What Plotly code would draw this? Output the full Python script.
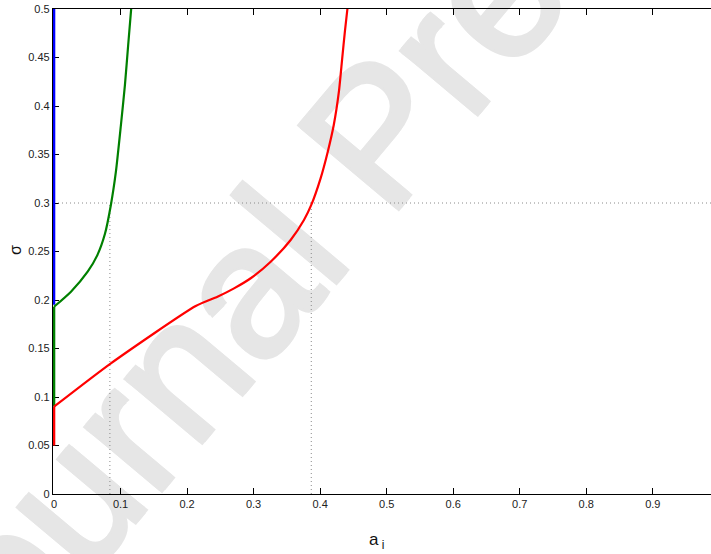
import plotly.graph_objects as go

# ---- data ----
red_stem_x = [0, 0]
red_stem_y = [0.05, 0.09]
red_x = [0, 0.0855, 0.213, 0.2457, 0.2706, 0.2957, 0.3257, 0.3557, 0.3757, 0.3867, 0.4007, 0.4115, 0.4205, 0.4282, 0.4332, 0.4372, 0.4410]
red_y = [0.090, 0.1347, 0.1938, 0.2034, 0.212, 0.2224, 0.2395, 0.2619, 0.2825, 0.298, 0.3254, 0.3529, 0.3804, 0.4148, 0.4492, 0.4766, 0.5]

green_stem_x = [0, 0]
green_stem_y = [0.09, 0.193]
green_x = [0, 0.0255, 0.0506, 0.065, 0.0765, 0.0855, 0.093, 0.1006, 0.1066, 0.1115, 0.116]
green_y = [0.193, 0.2086, 0.2292, 0.246, 0.268, 0.298, 0.332, 0.3804, 0.4216, 0.4629, 0.5]

blue_x = [0, 0]
blue_y = [0.195, 0.5]

ref_sigma = 0.3
ref_a = [0.084, 0.3867]
x_min, x_max = -0.0015, 0.9875

x_ticks = [0, 0.1, 0.2, 0.3, 0.4, 0.5, 0.6, 0.7, 0.8, 0.9]
x_tick_labels = ["0", "0.1", "0.2", "0.3", "0.4", "0.5", "0.6", "0.7", "0.8", "0.9"]
y_ticks = [0, 0.05, 0.1, 0.15, 0.2, 0.25, 0.3, 0.35, 0.4, 0.45, 0.5]
y_tick_labels = ["0", "0.05", "0.1", "0.15", "0.2", "0.25", "0.3", "0.35", "0.4", "0.45", "0.5"]

dot_style = dict(color="#8a8a8a", width=1, dash="1px,3px")

fig = go.Figure()
# dotted guide lines
fig.add_trace(go.Scatter(x=[0, x_max], y=[ref_sigma, ref_sigma], mode="lines", line=dot_style, hoverinfo="skip"))
for a in ref_a:
    fig.add_trace(go.Scatter(x=[a, a], y=[0, ref_sigma], mode="lines", line=dot_style, hoverinfo="skip"))

fig.add_trace(go.Scatter(x=blue_x, y=blue_y, mode="lines", line=dict(color="#0000ff", width=2.6)))
fig.add_trace(go.Scatter(x=green_stem_x, y=green_stem_y, mode="lines", line=dict(color="#008000", width=2.6)))
fig.add_trace(go.Scatter(x=green_x, y=green_y, mode="lines", line=dict(color="#008000", width=2.2, shape="spline", smoothing=0.6)))
fig.add_trace(go.Scatter(x=red_stem_x, y=red_stem_y, mode="lines", line=dict(color="#ff0000", width=2.6)))
fig.add_trace(go.Scatter(x=red_x, y=red_y, mode="lines", line=dict(color="#ff0000", width=2.2, shape="spline", smoothing=0.6)))

axis_font = dict(family="Liberation Sans, Arial, sans-serif", size=11, color="#222222")

fig.update_xaxes(range=[x_min, x_max], tickvals=x_ticks, ticktext=x_tick_labels,
                 showline=True, linecolor="black", linewidth=1.3, mirror="ticks",
                 ticks="inside", ticklen=6, tickcolor="black", tickwidth=1.3,
                 showgrid=False, zeroline=False, tickfont=axis_font, layer="below traces")
fig.update_yaxes(range=[0, 0.5], tickvals=y_ticks, ticktext=y_tick_labels,
                 showline=True, linecolor="black", linewidth=1.3, mirror=False,
                 ticks="inside", ticklen=6, tickcolor="black", tickwidth=1.3,
                 showgrid=False, zeroline=False, tickfont=axis_font, layer="below traces")

W, H = 711, 554
ml, mr, mt, mb = 53, 0, 9, 60
pw, ph = W - ml - mr, H - mt - mb

def px(xp):
    return (xp - ml) / pw

def py(yp):
    return (H - mb - yp) / ph

# watermark (below the data)
wm = "#e6e6e6"
cx, cy = 362, 123
fig.add_shape(type="rect", xref="paper", yref="paper",
              x0=px(cx - 5), x1=px(cx + 5), y0=py(cy + 5), y1=py(cy - 5),
              line=dict(width=0), fillcolor="rgba(0,0,0,0)", layer="below",
              label=dict(text="Journal Pre-proof", textangle=-50, textposition="middle center",
                         font=dict(family="Liberation Sans, Arial, sans-serif", size=188, color=wm,
                                   shadow=f"2px 2px 0 {wm}, -2px -2px 0 {wm}, 2px -2px 0 {wm}, -2px 2px 0 {wm}")))

fig.add_annotation(text="σ", xref="paper", yref="paper", x=px(15), y=py(250),
                   xanchor="center", yanchor="middle",
                   showarrow=False, textangle=-90,
                   font=dict(family="Liberation Sans, Arial, sans-serif", size=16, color="#111111"))
fig.add_annotation(text="a<sub> i</sub>", xref="paper", yref="paper", x=px(376), y=py(541),
                   xanchor="center", yanchor="middle",
                   showarrow=False,
                   font=dict(family="Liberation Sans, Arial, sans-serif", size=17, color="#111111"))

fig.update_layout(width=W, height=H, margin=dict(l=ml, r=mr, t=mt, b=mb, autoexpand=False),
                  paper_bgcolor="white", plot_bgcolor="rgba(0,0,0,0)",
                  showlegend=False)

fig.write_html("out.html", config={"displayModeBar": False},
               post_script="document.body.style.margin='0';document.body.style.overflow='hidden';")
